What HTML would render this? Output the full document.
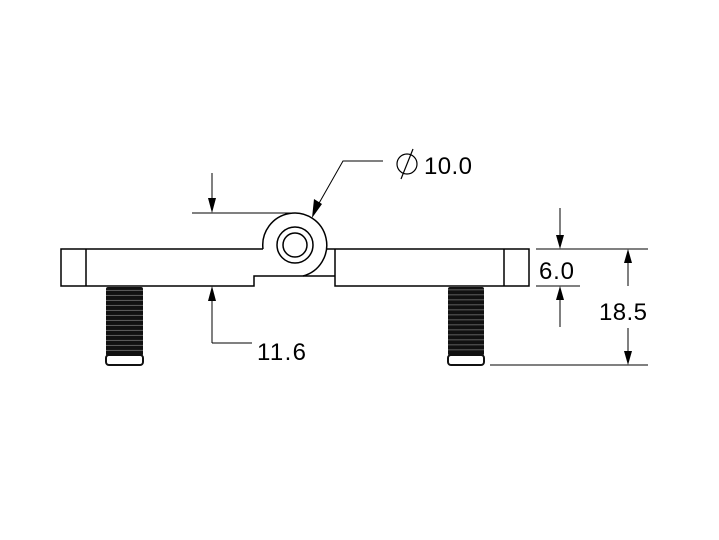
<!DOCTYPE html>
<html><head><style>
html,body{margin:0;padding:0;background:#fff;}
svg{display:block;}
text{font-family:"Liberation Sans",sans-serif;fill:#000;}
</style></head><body>
<svg width="719" height="540" viewBox="0 0 719 540" xmlns="http://www.w3.org/2000/svg">
<defs>
<pattern id="thr" x="0" y="287" width="719" height="5" patternUnits="userSpaceOnUse">
<rect width="719" height="5" fill="#111"/>
<line x1="0" y1="3.5" x2="719" y2="2.5" stroke="#777" stroke-width="0.8"/>
</pattern>
</defs>
<g fill="none" stroke="#000" stroke-width="1.5">
<path d="M263,249 L61,249 L61,286 L254,286 L254,276 L303,276"/>
<line x1="86" y1="249" x2="86" y2="286"/>
<path d="M263,249 A32,32 0 1 1 303,276"/>
<circle cx="295" cy="245" r="18"/>
<circle cx="295" cy="245" r="12"/>
<path d="M327,249 L529,249 L529,286 L335,286 L335,249"/>
<line x1="303" y1="276" x2="335" y2="276"/>
<line x1="504" y1="249" x2="504" y2="286"/>
</g>
<rect x="106" y="287" width="37" height="69" fill="url(#thr)" rx="2"/>
<rect x="106" y="355" width="37" height="10" rx="3" fill="#fff" stroke="#111" stroke-width="2"/>
<rect x="448" y="287" width="36" height="69" fill="url(#thr)" rx="2"/>
<rect x="448" y="355" width="36" height="10" rx="3" fill="#fff" stroke="#111" stroke-width="2"/>
<g stroke="#000" stroke-width="1" fill="none">
<line x1="192" y1="213" x2="295" y2="213"/>
<line x1="212" y1="173" x2="212" y2="200"/>
<line x1="212" y1="298" x2="212" y2="343"/>
<line x1="212" y1="343" x2="252" y2="343"/>
<polyline points="383,161 343,161 318,205"/>
<line x1="536" y1="249" x2="648" y2="249"/>
<line x1="536" y1="286" x2="580" y2="286"/>
<line x1="490" y1="365" x2="648" y2="365"/>
<line x1="560" y1="208" x2="560" y2="236"/>
<line x1="560" y1="299" x2="560" y2="327"/>
<line x1="628" y1="262" x2="628" y2="286"/>
<line x1="628" y1="328" x2="628" y2="352"/>
</g>
<g fill="#000">
<polygon points="208,198 216,198 212,213"/>
<polygon points="208,301 216,301 212,286"/>
<polygon points="312,218 314,199 322,204"/>
<polygon points="556,235 564,235 560,249"/>
<polygon points="556,300 564,300 560,286"/>
<polygon points="624,263 632,263 628,249"/>
<polygon points="624,351 632,351 628,365"/>
</g>
<circle cx="407" cy="164" r="10" fill="none" stroke="#000" stroke-width="1.2"/>
<line x1="401" y1="179" x2="413" y2="149" stroke="#000" stroke-width="1.2"/>
<text x="424" y="174" font-size="24" textLength="48">10.0</text>
<text x="257" y="360" font-size="24" textLength="49">11.6</text>
<text x="539" y="279" font-size="24" textLength="35">6.0</text>
<text x="599" y="320" font-size="24" textLength="48">18.5</text>
</svg>
</body></html>
